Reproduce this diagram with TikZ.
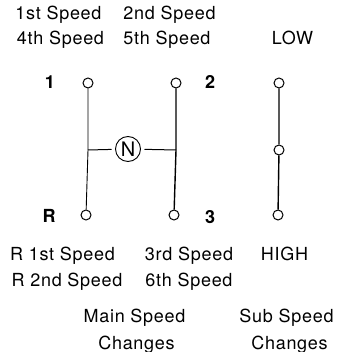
\documentclass[tikz,border=0pt]{standalone}
\usepackage{fontspec}
\setmainfont[LetterSpace=4]{TeX Gyre Heros}
\begin{document}
\begin{tikzpicture}[
    x=1pt, y=-1pt,
    gate/.style={circle, draw, line width=1pt, inner sep=0pt, minimum size=10pt},
    neutral/.style={circle, draw, line width=0.9pt, inner sep=0pt, minimum size=25pt, outer sep=4pt, font=\fontsize{20}{20}\selectfont},
    lbl/.style={anchor=base, inner sep=0pt, font=\fontsize{18}{20}\selectfont},
    num/.style={lbl, font=\fontsize{18}{20}\selectfont\bfseries},
    rod/.style={line width=1.4pt}
]
\useasboundingbox (0,0) rectangle (345,352);

% Main speed gate (H pattern)
\node[gate] (p1) at (88,83) {};
\node[gate] (p2) at (176,83) {};
\node[gate] (pr) at (86,215) {};
\node[gate] (p3) at (174,215) {};
\node[neutral] (n) at (128,149) {N};
\coordinate (jl) at (88,150);
\coordinate (jr) at (176,150);

% Sub speed gate
\node[gate] (plow) at (279,83) {};
\node[gate] (pmid) at (279,150) {};
\node[gate] (phigh) at (278,215) {};

% Shift paths
\draw[line width=0.9pt] (p1) -- (jl) -- (pr);
\draw[rod] (p2) -- (jr) -- (p3);
\draw[line width=1pt] (jl) -- (n) -- (jr);
\draw[rod] (plow) -- (pmid) -- (phigh);

% Position numbers
\node[num] (l1) at (50,89) {1};
\node[num] (l2) at (210,89) {2};
\node[num] (lr) at (49,222) {R};
\node[num] (l3) at (210,223) {3};

% Speed names
\node[lbl] (t1) at (58.5,20) {1st Speed};
\node[lbl] (t2) at (169.5,20) {2nd Speed};
\node[lbl] (t4) at (60.5,45) {4th Speed};
\node[lbl] (t5) at (167,45) {5th Speed};
\node[lbl] (tlow) at (292.5,45) {LOW};
\node[lbl] (tr1) at (62.5,260) {R 1st Speed};
\node[lbl] (t3) at (189,260) {3rd Speed};
\node[lbl] (thigh) at (284.5,260) {HIGH};
\node[lbl] (tr2) at (67,286) {R 2nd Speed};
\node[lbl] (t6) at (189,286) {6th Speed};

% Captions
\node[lbl] (main) at (134.5,322) {Main Speed};
\node[lbl] (mainb) at (136.5,349) {Changes};
\node[lbl] (sub) at (286.5,322) {Sub Speed};
\node[lbl] (subb) at (289.5,349) {Changes};

\end{tikzpicture}
\end{document}
